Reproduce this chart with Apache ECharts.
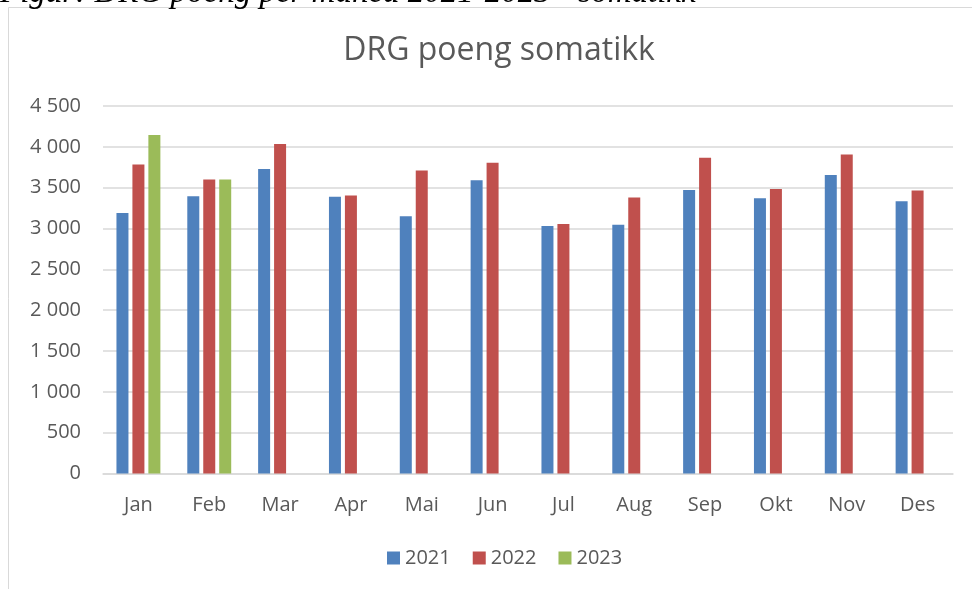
<!DOCTYPE html>
<html>
<head>
<meta charset="utf-8">
<script src="https://cdn.jsdelivr.net/npm/echarts@6/dist/echarts.min.js"></script>
<style>
  html, body { margin: 0; padding: 0; background: #fff; }
  #chart { width: 972px; height: 589px; }
</style>
</head>
<body>
<div id="chart"></div>
<script>
const months = ['Jan', 'Feb', 'Mar', 'Apr', 'Mai', 'Jun', 'Jul', 'Aug', 'Sep', 'Okt', 'Nov', 'Des']
const drg2021 = [3190, 3395, 3730, 3390, 3150, 3590, 3030, 3045, 3470, 3370, 3655, 3335]
const drg2022 = [3785, 3600, 4035, 3405, 3710, 3805, 3055, 3380, 3865, 3485, 3905, 3465]
const drg2023 = [4145, 3600, null, null, null, null, null, null, null, null, null, null]
const yTicks = { min: 0, max: 4500, interval: 500 }

const fmt = v => {
  if (v < 1000) return String(v)
  const k = Math.floor(v / 1000), r = v % 1000
  return k + ' ' + String(r).padStart(3, '0')
}

const font = '"Open Sans", "Noto Sans", sans-serif'
const c = echarts.init(document.getElementById('chart'))
c.setOption({
  animation: false,
  textStyle: { fontFamily: font },
  title: {
    text: 'DRG poeng somatikk',
    left: 494, top: 30, textAlign: 'center',
    textStyle: { fontSize: 32, fontWeight: 'normal', color: '#595959', fontFamily: font }
  },
  graphic: [
    { type: 'rect', shape: { x: 8.5, y: 7.5, width: 980, height: 600 }, style: { fill: 'none', stroke: '#d9d9d9', lineWidth: 1 }, silent: true },
    { type: 'text', style: { x: 0, y: 10, text: 'Figur: DRG poeng per måned 2021-2023 - somatikk', font: 'italic 33px "Liberation Serif", serif', fill: '#000', verticalAlign: 'bottom' }, silent: true }
  ],
  legend: {
    data: ['2021', '2022', '2023'],
    left: 382, top: 543,
    icon: 'rect', itemWidth: 13, itemHeight: 13, itemGap: 22,
    textStyle: { fontSize: 20, color: '#595959', fontFamily: font }
  },
  grid: { left: 103, right: 19, top: 106, bottom: 115.5 },
  xAxis: {
    type: 'category', data: months,
    axisLine: { lineStyle: { color: '#d9d9d9', width: 1.5 } },
    axisTick: { show: false },
    axisLabel: { fontSize: 20, color: '#595959', margin: 22, fontFamily: font }
  },
  yAxis: {
    type: 'value', min: yTicks.min, max: yTicks.max, interval: yTicks.interval,
    axisLine: { show: false }, axisTick: { show: false },
    splitLine: { lineStyle: { color: '#d9d9d9', width: 1.5 } },
    axisLabel: { fontSize: 20, color: '#595959', margin: 22, formatter: fmt, fontFamily: font }
  },
  series: [
    { name: '2021', type: 'bar', data: drg2021, barWidth: 12, barGap: '33%', itemStyle: { color: '#4f81bd' } },
    { name: '2022', type: 'bar', data: drg2022, barWidth: 12, barGap: '33%', itemStyle: { color: '#c0504d' } },
    { name: '2023', type: 'bar', data: drg2023, barWidth: 12, barGap: '33%', itemStyle: { color: '#9bbb59' } }
  ]
})
window.addEventListener('resize', () => c.resize())
</script>
</body>
</html>
